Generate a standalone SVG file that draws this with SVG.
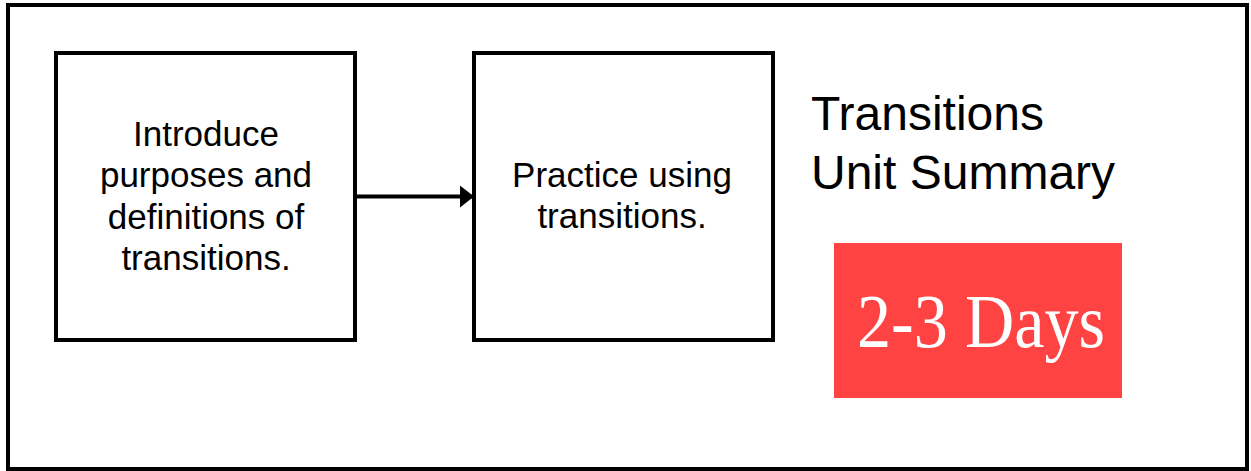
<svg xmlns="http://www.w3.org/2000/svg" width="1251" height="471" viewBox="0 0 1251 471">
<style>
.box{fill:#fff;stroke:#000;stroke-width:4}
.t{font-family:"Liberation Sans",Arial,sans-serif;font-size:35px;fill:#000;text-anchor:middle}
.title{font-family:"Liberation Sans",Arial,sans-serif;font-size:48px;fill:#000}
.days{font-family:"Liberation Serif","Times New Roman",serif;font-size:76px;fill:#fff}
</style>
<defs>
<marker id="ah" markerWidth="14" markerHeight="22" refX="14" refY="11" orient="auto" markerUnits="userSpaceOnUse">
<path d="M0,0 L14,11 L0,22 Z" fill="#000"/>
</marker>
</defs>
<rect x="0" y="0" width="1251" height="471" fill="#fff"/>
<rect x="8" y="5" width="1239" height="464" fill="none" stroke="#000" stroke-width="4"/>
<g id="node1">
<rect class="box" x="56" y="53" width="299" height="287"/>
<text class="t" x="206" y="146">Introduce</text>
<text class="t" x="206" y="187">purposes and</text>
<text class="t" x="206" y="229">definitions of</text>
<text class="t" x="206" y="270">transitions.</text>
</g>
<g id="node2">
<rect class="box" x="474" y="53" width="299" height="287"/>
<text class="t" x="622" y="187">Practice using</text>
<text class="t" x="622" y="228">transitions.</text>
</g>
<g id="title">
<text class="title" x="811" y="130">Transitions</text>
<text class="title" x="811" y="189">Unit Summary</text>
</g>
<g id="days">
<rect x="834" y="243" width="288" height="155" fill="#FF4343"/>
<text class="days" x="857" y="347" textLength="248" lengthAdjust="spacingAndGlyphs">2-3 Days</text>
</g>
<g id="connectors">
<line x1="357" y1="196.5" x2="474" y2="196.5" stroke="#000" stroke-width="4" marker-end="url(#ah)"/>
</g>
</svg>
